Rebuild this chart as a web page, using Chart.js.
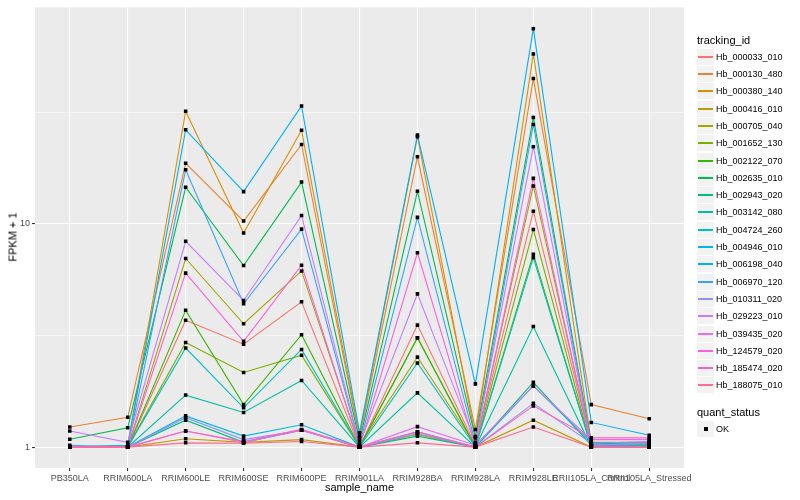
<!DOCTYPE html>
<html>
<head>
<meta charset="utf-8">
<script src="https://cdn.jsdelivr.net/npm/chart.js@4.4.1/dist/chart.umd.min.js"></script>
<style>
  body { margin: 0; background: #fff; font-family: "Liberation Sans", Arial, sans-serif; }
  #wrap { position: relative; width: 800px; height: 500px; overflow: hidden; }
  #myChart { position: absolute; left: 0; top: 0; }
  .txt { position: absolute; white-space: nowrap; color: #000; line-height: 1; font-weight: normal; }
  .title { font-size: 11px; }
  .key { position: absolute; width: 17px; height: 16px; background: #F2F2F2; }
  .keyline { position: absolute; left: 1px; width: 15px; height: 1.5px; top: 7px; }
  .item { font-size: 9px; }
</style>
</head>
<body>
<div id="wrap">
  <canvas id="myChart" width="800" height="500"></canvas>
  <div class="txt title" style="left:13px;top:236.5px;transform:translate(-50%,-50%) rotate(-90deg);">FPKM + 1</div>
  <div class="txt title" style="left:359.5px;top:487px;transform:translate(-50%,-50%);">sample_name</div>
  <div id="legend"></div>
</div>
<script>
const categories = ['PB350LA', 'RRIM600LA', 'RRIM600LE', 'RRIM600SE', 'RRIM600PE', 'RRIM901LA',
    'RRIM928BA', 'RRIM928LA', 'RRIM928LE', 'RRII105LA_Control', 'RRII105LA_Stressed'];

const trackingIds = ['Hb_000033_010', 'Hb_000130_480', 'Hb_000380_140', 'Hb_000416_010', 'Hb_000705_040',
    'Hb_001652_130', 'Hb_002122_070', 'Hb_002635_010', 'Hb_002943_020', 'Hb_003142_080',
    'Hb_004724_260', 'Hb_004946_010', 'Hb_006198_040', 'Hb_006970_120', 'Hb_010311_020',
    'Hb_029223_010', 'Hb_039435_020', 'Hb_124579_020', 'Hb_185474_020', 'Hb_188075_010'];

// FPKM + 1, one row per tracking_id, columns follow categories
const fpkmPlus1 = [
    [1.0, 1.0, 3.70, 2.89, 4.48, 1.0, 3.52, 1.02, 11.4, 1.03, 1.02],
    [1.23, 1.36, 18.7, 10.3, 22.7, 1.1, 20.0, 1.2, 44.8, 1.55, 1.34],
    [1.0, 1.02, 32.0, 9.1, 26.3, 1.12, 24.6, 1.115, 57.8, 1.05, 1.05],
    [1.0, 1.0, 1.09, 1.05, 1.08, 1.0, 1.14, 1.0, 1.32, 1.0, 1.0],
    [1.0, 1.0, 7.0, 3.57, 6.16, 1.02, 2.53, 1.02, 14.8, 1.02, 1.02],
    [1.0, 1.0, 2.94, 2.16, 2.58, 1.0, 3.09, 1.0, 9.45, 1.0, 1.0],
    [1.0, 1.0, 4.10, 1.55, 3.19, 1.0, 3.09, 1.0, 7.32, 1.0, 1.0],
    [1.085, 1.22, 14.6, 6.51, 15.4, 1.065, 14.0, 1.1, 30.0, 1.04, 1.03],
    [1.0, 1.0, 1.32, 1.05, 1.19, 1.0, 1.12, 1.0, 1.95, 1.02, 1.02],
    [1.0, 1.0, 1.71, 1.43, 1.99, 1.0, 1.75, 1.0, 3.47, 1.0, 1.0],
    [1.0, 1.0, 2.78, 1.50, 2.74, 1.0, 2.38, 1.0, 7.06, 1.0, 1.0],
    [1.0, 1.0, 1.38, 1.12, 1.26, 1.0, 1.17, 1.0, 1.88, 1.05, 1.04],
    [1.0, 1.02, 26.4, 13.96, 33.8, 1.16, 25.0, 1.92, 75.0, 1.29, 1.13],
    [1.02, 1.0, 17.5, 4.39, 9.48, 1.02, 10.7, 1.04, 27.9, 1.02, 1.02],
    [1.0, 1.0, 1.355, 1.08, 1.19, 1.0, 1.15, 1.0, 1.57, 1.04, 1.06],
    [1.18, 1.05, 8.36, 4.54, 10.9, 1.03, 4.86, 1.05, 22.2, 1.02, 1.04],
    [1.0, 1.0, 1.18, 1.05, 1.19, 1.0, 1.235, 1.02, 1.88, 1.08, 1.08],
    [1.0, 1.0, 6.02, 2.98, 6.53, 1.0, 7.43, 1.0, 16.0, 1.0, 1.0],
    [1.0, 1.0, 1.18, 1.06, 1.2, 1.0, 1.17, 1.0, 1.53, 1.1, 1.1],
    [1.0, 1.0, 1.045, 1.04, 1.06, 1.0, 1.045, 1.0, 1.23, 1.0, 1.0]
];

const yTickValues = [1, 10];
const yMinorValues = [Math.sqrt(10), Math.sqrt(1000)];

// ggplot2 default hue palette for 20 groups
const lineColors = ['#F8766D', '#EA8331', '#D89000', '#C09B00', '#A3A500', '#7CAE00', '#39B600', '#00BB4E',
    '#00BF7D', '#00C1A3', '#00BFC4', '#00BAE0', '#00B0F6', '#35A2FF', '#9590FF', '#C77CFF',
    '#E76BF3', '#FA62DB', '#FF62BC', '#FF6C91'];

const fontFamily = '"Liberation Sans", Arial, sans-serif';

const panelBg = {
    id: 'panelBg',
    beforeDraw(chart) {
        const { ctx, chartArea: a } = chart;
        ctx.save();
        ctx.fillStyle = '#EBEBEB';
        ctx.fillRect(a.left, a.top, a.right - a.left, a.bottom - a.top);
        ctx.restore();
    }
};

const lineSets = trackingIds.map((id, i) => ({
    label: id,
    data: fpkmPlus1[i].map((v, j) => ({ x: j, y: v })),
    borderColor: lineColors[i],
    backgroundColor: lineColors[i],
    borderWidth: 1.1,
    pointRadius: 0,
    tension: 0,
    order: 40 - i
}));

const pointSet = {
    label: 'OK',
    data: fpkmPlus1.flatMap(row => row.map((v, j) => ({ x: j, y: v }))),
    showLine: false,
    pointStyle: 'rect',
    pointRadius: 2.5,
    pointBackgroundColor: '#000',
    pointBorderWidth: 0,
    order: 0
};

const isMajor = v => yTickValues.some(t => Math.abs(t - v) < 1e-9);

new Chart(document.getElementById('myChart'), {
    type: 'line',
    data: { datasets: [...lineSets, pointSet] },
    options: {
        responsive: false,
        animation: false,
        layout: { padding: { left: 0, top: 5, right: 116, bottom: 0 } },
        plugins: { legend: { display: false }, tooltip: { enabled: false } },
        scales: {
            x: {
                type: 'linear',
                min: -0.6,
                max: categories.length - 0.4,
                afterBuildTicks: s => { s.ticks = categories.map((c, i) => ({ value: i })); },
                afterFit: s => { s.height = 32; },
                ticks: {
                    autoSkip: false, maxRotation: 0, minRotation: 0, padding: 2,
                    color: '#4D4D4D', font: { size: 9, family: fontFamily },
                    callback: v => categories[v]
                },
                grid: { color: '#FFFFFF', lineWidth: 1.1, tickLength: 3, tickColor: '#333333' },
                border: { display: false }
            },
            y: {
                type: 'logarithmic',
                min: 0.806,
                max: 93.4,
                afterBuildTicks: s => {
                    s.ticks = [yTickValues[0], yMinorValues[0], yTickValues[1], yMinorValues[1]].map(v => ({ value: v }));
                },
                afterFit: s => { s.width = 35; },
                ticks: {
                    autoSkip: false, padding: 2,
                    color: '#4D4D4D', font: { size: 9, family: fontFamily },
                    callback: v => isMajor(v) ? String(v) : ''
                },
                grid: {
                    color: '#FFFFFF',
                    lineWidth: c => isMajor(c.tick.value) ? 1.1 : 0.55,
                    tickLength: 3,
                    tickColor: c => isMajor(c.tick.value) ? '#333333' : 'rgba(0,0,0,0)'
                },
                border: { display: false }
            }
        }
    },
    plugins: [panelBg]
});

// legend, ggplot style
const legend = document.getElementById('legend');
let html = '<div class="txt title" style="left:697px;top:34.5px;">tracking_id</div>';
trackingIds.forEach((id, i) => {
    const top = Math.round(48.7 + i * 17.3);
    html += '<div class="key" style="left:697px;top:' + top + 'px;">' +
        '<div class="keyline" style="background:' + lineColors[i] + ';"></div></div>' +
        '<div class="txt item" style="left:716px;top:' + (top + 3.5) + 'px;">' + id + '</div>';
});
html += '<div class="txt title" style="left:697px;top:406.5px;">quant_status</div>';
html += '<div class="key" style="left:697px;top:421px;">' +
    '<div style="position:absolute;left:7px;top:6px;width:4px;height:4px;background:#000;"></div></div>';
html += '<div class="txt item" style="left:716px;top:424.5px;">OK</div>';
legend.innerHTML = html;
</script>
</body>
</html>
